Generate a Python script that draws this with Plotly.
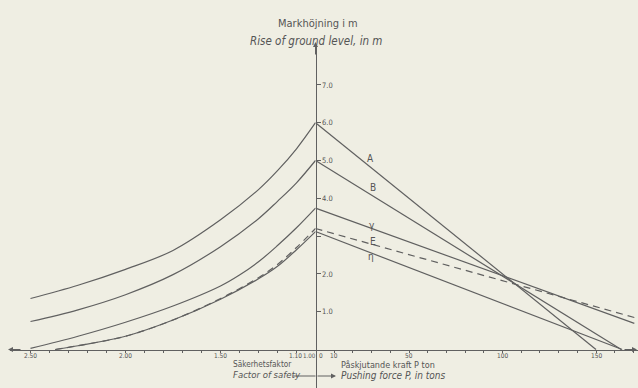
import plotly.graph_objects as go

# ---------------- data ----------------
# Left half: factor of safety (reversed) vs rise of ground level (m)
F_A = [2.5, 2.25, 2.0, 1.75, 1.5, 1.3, 1.2, 1.1, 1.0]
rise_A_left = [1.35, 1.70, 2.12, 2.62, 3.43, 4.23, 4.73, 5.31, 6.0]
F_B = [2.5, 2.25, 2.0, 1.75, 1.5, 1.3, 1.2, 1.1, 1.0]
rise_B_left = [0.74, 1.05, 1.45, 1.98, 2.72, 3.46, 3.92, 4.41, 5.0]
F_G = [2.5, 2.25, 2.0, 1.75, 1.5, 1.4, 1.3, 1.2, 1.1, 1.0]
rise_G_left = [0.03, 0.35, 0.72, 1.15, 1.68, 1.97, 2.32, 2.75, 3.22, 3.74]
F_E = [2.37, 2.25, 2.0, 1.75, 1.5, 1.3, 1.2, 1.1, 1.0]
rise_E_left = [0.0, 0.1, 0.35, 0.78, 1.35, 1.9, 2.25, 2.7, 3.2]
F_H = [2.37, 2.25, 2.0, 1.75, 1.5, 1.3, 1.2, 1.1, 1.0]
rise_H_left = [0.0, 0.1, 0.35, 0.78, 1.33, 1.87, 2.2, 2.64, 3.12]

# Right half: pushing force P (tons) vs rise of ground level (m)
P_A = [0, 150]
rise_A_right = [6.0, 0.0]
P_B = [0, 163.5]
rise_B_right = [5.0, 0.0]
P_G = [0, 170.5]
rise_G_right = [3.74, 0.69]
P_E = [0, 172.5]
rise_E_right = [3.2, 0.82]
P_H = [0, 164]
rise_H_right = [3.12, 0.0]

curve_labels = ["A", "B", "γ", "E", "η"]
label_P = [29.5, 30.6, 30.0, 30.6, 29.7]
label_rise = [5.06, 4.29, 3.27, 2.85, 2.45]

F_ticks = [2.5, 2.4, 2.3, 2.2, 2.1, 2.0, 1.9, 1.8, 1.7, 1.6, 1.5, 1.4, 1.3, 1.2, 1.1]
F_label_vals = [2.5, 2.0, 1.5, 1.1]
F_label_text = ["2.50", "2.00", "1.50", "1.10"]
P_ticks = [10, 20, 30, 40, 50, 60, 70, 80, 90, 100, 110, 120, 130, 140, 150, 160, 170]
P_label_vals = [10, 50, 100, 150]
P_label_text = ["10", "50", "100", "150"]
y_ticks = [1, 2, 3, 4, 5, 6, 7]
y_ticktext = ["1.0", "2.0", "", "4.0", "5.0", "6.0", "7.0"]

# ---------------- style ----------------
W, H = 638, 388
BG = "#efeee3"
LINE = "#606060"
TXT = "#555555"
FONT = "DejaVu Sans Condensed, Liberation Sans Narrow, DejaVu Sans, sans-serif"

def px(x):
    return x / W

def py(y):
    return 1 - y / H

split = 315.5 / W
x_axis_pos = 1 - 349.5 / H

fig = go.Figure()

left = [(F_A, rise_A_left, "solid"), (F_B, rise_B_left, "solid"), (F_G, rise_G_left, "solid"),
        (F_E, rise_E_left, "7px,5px"), (F_H, rise_H_left, "solid")]
right = [(P_A, rise_A_right, "solid"), (P_B, rise_B_right, "solid"), (P_G, rise_G_right, "solid"),
         (P_E, rise_E_right, "7px,5px"), (P_H, rise_H_right, "solid")]

for xs, ys, dash in left:
    fig.add_trace(go.Scatter(x=xs, y=ys, mode="lines", xaxis="x", yaxis="y",
                             line=dict(color=LINE, width=1.2, dash=dash, shape="spline", smoothing=1.0),
                             showlegend=False, hoverinfo="skip"))
for xs, ys, dash in right:
    fig.add_trace(go.Scatter(x=xs, y=ys, mode="lines", xaxis="x2", yaxis="y",
                             line=dict(color=LINE, width=1.2, dash=dash),
                             showlegend=False, hoverinfo="skip"))

annotations = []
for lab, xp, yv in zip(curve_labels, label_P, label_rise):
    annotations.append(dict(x=xp, y=yv, xref="x2", yref="y", text=lab, showarrow=False,
                            font=dict(size=10, color=TXT, family=FONT)))

# x tick labels (placed just under the axis line)
tick_font = dict(size=6.5, color=TXT, family=FONT)
for v, t in zip(F_label_vals, F_label_text):
    annotations.append(dict(x=v, y=0, xref="x", yref="y", text=t, showarrow=False,
                            yanchor="top", yshift=-1.5, xshift=(-1.5 if t == "1.10" else 0),
                            borderpad=0, font=tick_font))
for v, t in zip(P_label_vals, P_label_text):
    annotations.append(dict(x=v, y=0, xref="x2", yref="y", text=t, showarrow=False,
                            yanchor="top", yshift=-1.5, borderpad=0, font=tick_font))
annotations.append(dict(x=1.0, y=0, xref="x", yref="y", text="1.00", showarrow=False,
                        xanchor="right", yanchor="top", xshift=1, yshift=-1.5, borderpad=0,
                        font=dict(size=6.2, color=TXT, family=FONT)))
annotations.append(dict(x=0, y=0, xref="x2", yref="y", text="0", showarrow=False,
                        xanchor="left", yanchor="top", xshift=2, yshift=-1.5, borderpad=0,
                        font=tick_font))

# titles
annotations.append(dict(x=px(318), y=py(15), xref="paper", yref="paper", text="Markhöjning i m",
                        showarrow=False, font=dict(size=11, color=TXT, family=FONT)))
annotations.append(dict(x=px(316), y=py(32), xref="paper", yref="paper",
                        text="<i>Rise of ground level, in m</i>",
                        showarrow=False, font=dict(size=11.5, color=TXT, family=FONT)))
annotations.append(dict(x=px(232), y=py(370), xref="paper", yref="paper", text="Säkerhetsfaktor",
                        xanchor="left", showarrow=False, borderpad=0,
                        font=dict(size=8.2, color=TXT, family=FONT)))
annotations.append(dict(x=px(232), y=py(381), xref="paper", yref="paper", text="<i>Factor of safety</i>",
                        xanchor="left", showarrow=False, borderpad=0,
                        font=dict(size=9.5, color=TXT, family=FONT)))
annotations.append(dict(x=px(340), y=py(371), xref="paper", yref="paper", text="Påskjutande kraft P ton",
                        xanchor="left", showarrow=False, borderpad=0,
                        font=dict(size=9, color=TXT, family=FONT)))
annotations.append(dict(x=px(340), y=py(381.5), xref="paper", yref="paper",
                        text="<i>Pushing force P, in tons</i>",
                        xanchor="left", showarrow=False, borderpad=0,
                        font=dict(size=10, color=TXT, family=FONT)))

# axis arrows
arrow = dict(showarrow=True, arrowhead=2, arrowsize=1, arrowwidth=1, arrowcolor=LINE, text="",
             xref="paper", yref="paper", axref="pixel", ayref="pixel")
annotations.append(dict(arrow, x=split, y=py(42), ax=0, ay=14))
annotations.append(dict(arrow, x=px(8), y=x_axis_pos, ax=14, ay=0))
annotations.append(dict(arrow, x=px(637), y=x_axis_pos, ax=-14, ay=0))
annotations.append(dict(arrow, x=px(336), y=py(376), ax=-20, ay=0))

shapes = [dict(type="line", xref="paper", yref="paper", x0=px(293), x1=split, y0=py(376), y1=py(376),
               line=dict(color=LINE, width=1))]

axis_common = dict(showgrid=False, zeroline=False, showline=True, linecolor=LINE, linewidth=1,
                   ticks="outside", ticklen=2.5, tickcolor=LINE, tickwidth=1,
                   showticklabels=False, fixedrange=True)

fig.update_layout(
    width=W, height=H,
    margin=dict(l=0, r=0, t=0, b=0),
    paper_bgcolor=BG, plot_bgcolor="rgba(0,0,0,0)",
    xaxis=dict(axis_common, domain=[px(10), split], range=[1 + (315.5 - 10) / 190, 1.0],
               anchor="free", position=x_axis_pos, tickmode="array", tickvals=F_ticks),
    xaxis2=dict(axis_common, domain=[split, 1], range=[0, (638 - 315.5) / 1.87],
                anchor="free", position=x_axis_pos, tickmode="array", tickvals=P_ticks),
    yaxis=dict(axis_common, domain=[0, py(45)], range=[-38.5 / 37.8, (349.5 - 45) / 37.8],
               anchor="free", position=split, side="right", tickmode="array",
               tickvals=y_ticks, ticktext=y_ticktext, ticklen=4, showticklabels=True,
               tickfont=dict(size=7.5, color=TXT, family=FONT)),
    annotations=annotations,
    shapes=shapes,
)

fig.write_html("out.html")
